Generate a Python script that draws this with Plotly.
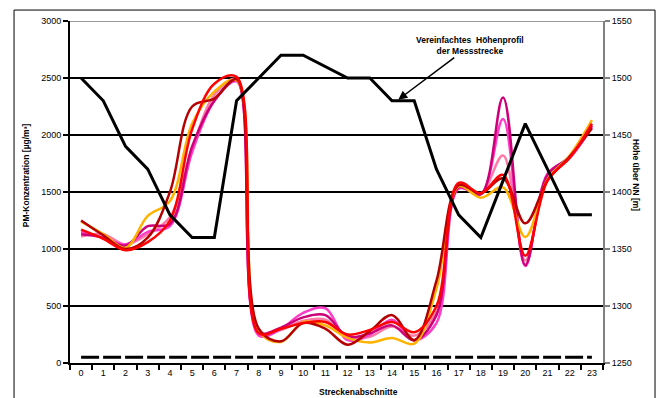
import plotly.graph_objects as go

x = list(range(24))
tick_labels = [str(i) for i in x]

hoehe = [1500, 1480, 1440, 1420, 1380, 1360, 1360, 1480, 1500, 1520, 1520, 1510,
         1500, 1500, 1480, 1480, 1420, 1380, 1360, 1410, 1460, 1420, 1380, 1380]

grenzwert = [50] * 24

dunkelrot = [1250, 1120, 1000, 1100, 1500, 2250, 2320, 2490, 300, 190, 350, 300,
             160, 280, 420, 200, 720, 1560, 1490, 1620, 1225, 1600, 1810, 2060]
rot = [1170, 1090, 990, 1060, 1250, 2050, 2450, 2510, 260, 300, 350, 360,
       250, 290, 360, 270, 500, 1580, 1490, 1650, 940, 1600, 1800, 2100]
orange = [1240, 1130, 1010, 1290, 1420, 2100, 2380, 2480, 280, 185, 360, 330,
          220, 180, 220, 170, 650, 1550, 1450, 1540, 1105, 1610, 1820, 2130]
magenta = [1130, 1100, 1030, 1200, 1220, 1900, 2300, 2480, 270, 310, 400, 420,
           230, 260, 330, 200, 420, 1540, 1480, 2330, 860, 1650, 1810, 2080]
pink = [1150, 1100, 1040, 1150, 1200, 1850, 2300, 2470, 240, 300, 440, 480,
        200, 250, 380, 200, 350, 1530, 1480, 2140, 850, 1660, 1800, 2070]
hellpink = [1110, 1130, 1040, 1130, 1280, 1880, 2350, 2490, 260, 290, 370, 380,
            220, 230, 320, 240, 450, 1550, 1490, 1820, 900, 1630, 1800, 2090]

series = [
    ("hellpink", hellpink, "#FF7AA8"),
    ("pink", pink, "#FF3CC8"),
    ("magenta", magenta, "#CC0077"),
    ("orange", orange, "#FFB300"),
    ("dunkelrot", dunkelrot, "#B40000"),
    ("rot", rot, "#FF0000"),
]

FONT = "Liberation Sans, Arial, sans-serif"

fig = go.Figure()

fig.add_trace(go.Scatter(x=x, y=grenzwert, mode="lines",
                         line=dict(color="black", width=3, dash="18px,4px"),
                         showlegend=False, hoverinfo="skip"))

for name, vals, col in series:
    fig.add_trace(go.Scatter(x=x, y=vals, mode="lines", name=name,
                             line=dict(color=col, width=2.5, shape="spline", smoothing=1.0),
                             showlegend=False))

fig.add_trace(go.Scatter(x=x, y=hoehe, mode="lines", yaxis="y2",
                         line=dict(color="black", width=3),
                         showlegend=False))

fig.update_layout(
    width=659, height=398,
    margin=dict(l=70, r=56, t=21, b=35),
    paper_bgcolor="white", plot_bgcolor="white",
    font=dict(family=FONT, size=9, color="black"),
    xaxis=dict(range=[-0.5, 23.5], tickvals=x, ticktext=tick_labels,
               showgrid=False, zeroline=False, showline=True,
               linecolor="black", linewidth=2, ticks="",
               minor=dict(tick0=-0.5, dtick=1, ticks="outside", ticklen=5,
                          tickcolor="black", tickwidth=1.5, showgrid=False),
               tickfont=dict(size=9)),
    yaxis=dict(range=[0, 3000], tickvals=[0, 500, 1000, 1500, 2000, 2500, 3000],
               showgrid=True, gridcolor="black", gridwidth=2, zeroline=False,
               showline=True, linecolor="black", linewidth=2,
               ticks="outside", ticklen=5, tickcolor="black", tickwidth=1.5,
               tickfont=dict(size=9)),
    yaxis2=dict(range=[1250, 1550], tickvals=[1250, 1300, 1350, 1400, 1450, 1500, 1550],
                overlaying="y", side="right", showgrid=False, zeroline=False,
                showline=True, linecolor="#808080", linewidth=2,
                ticks="outside", ticklen=5, tickcolor="#808080", tickwidth=1.5,
                tickfont=dict(size=9)),
    shapes=[
        dict(type="line", xref="paper", yref="y", x0=0, x1=1, y0=3000, y1=3000,
             line=dict(color="#9A9A9A", width=2)),
        dict(type="path", xref="paper", yref="paper",
             path="M -0.105 -0.3 L -0.105 1.032 L 1.0976 1.032 L 1.0976 -0.3",
             line=dict(color="black", width=1)),
    ],
    annotations=[
        dict(text="<b>Vereinfachtes  Höhenprofil<br>der Messstrecke</b>",
             xref="x", yref="y2", x=14.28, y=1481, ax=72, ay=-54,
             showarrow=True, arrowhead=2, arrowsize=1.2, arrowwidth=1.5,
             arrowcolor="black", font=dict(size=8.5)),
        dict(text="<b>Streckenabschnitte</b>", xref="x", yref="paper",
             x=12.5, y=-0.065, yanchor="top", showarrow=False, font=dict(size=8.5)),
        dict(text="<b>PM-Konzentration [µg/m³]</b>", xref="paper", yref="paper",
             x=-0.095, y=0.55, textangle=-90, showarrow=False, font=dict(size=8.5)),
        dict(text="<b>Höhe über NN [m]</b>", xref="paper", yref="paper",
             x=1.075, y=0.55, textangle=90, showarrow=False, font=dict(size=8.5)),
    ],
)

fig.write_html("out.html", config={"displayModeBar": False},
               post_script="document.body.style.margin='0';document.body.style.padding='0';")
